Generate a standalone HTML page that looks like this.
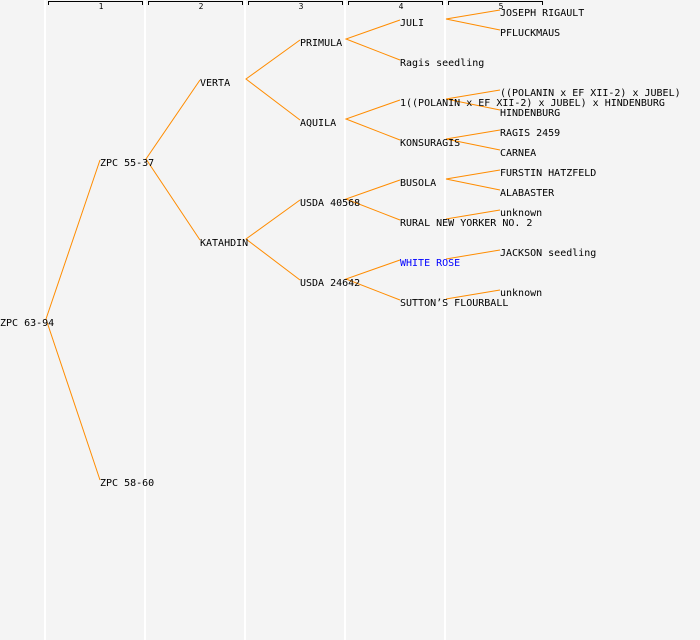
<!DOCTYPE html>
<html><head><meta charset="utf-8"><style>
html,body{margin:0;padding:0;background:#f4f4f4;}
svg{display:block;}
text{font-family:"DejaVu Sans Mono","Liberation Mono",monospace;font-size:10px;fill:#000;}
.n{font-size:8px;}
</style></head><body>
<svg width="700" height="640" viewBox="0 0 700 640" xmlns="http://www.w3.org/2000/svg">
<rect width="700" height="640" fill="#f4f4f4"/>
<g stroke="#ffffff" stroke-width="2">
<line x1="45" y1="0" x2="45" y2="640"/><line x1="145" y1="0" x2="145" y2="640"/>
<line x1="245" y1="0" x2="245" y2="640"/><line x1="345" y1="0" x2="345" y2="640"/>
<line x1="445" y1="0" x2="445" y2="640"/>
</g>
<g stroke="#000" stroke-width="1" fill="none">
<path d="M48.5 5V1.5H142.5V5"/><path d="M148.5 5V1.5H242.5V5"/><path d="M248.5 5V1.5H342.5V5"/>
<path d="M348.5 5V1.5H442.5V5"/><path d="M448.5 5V1.5H542.5V5"/>
</g>
<text class="n" x="101" y="9" text-anchor="middle">1</text>
<text class="n" x="201" y="9" text-anchor="middle">2</text>
<text class="n" x="301" y="9" text-anchor="middle">3</text>
<text class="n" x="401" y="9" text-anchor="middle">4</text>
<text class="n" x="501" y="9" text-anchor="middle">5</text>
<g stroke="#ff8c00" stroke-width="1" fill="none">
<polyline points="100,160 46,319 100,480"/>
<polyline points="200,80 146,159 200,240"/>
<polyline points="300,40 246,79 300,120"/>
<polyline points="300,200 246,239 300,280"/>
<polyline points="400,20 346,39 400,60"/>
<polyline points="400,100 346,119 400,140"/>
<polyline points="400,180 346,199 400,220"/>
<polyline points="400,260 346,279 400,300"/>
<polyline points="500,10 446,19 500,30"/>
<polyline points="500,90 446,99 500,110"/>
<polyline points="500,130 446,139 500,150"/>
<polyline points="500,170 446,179 500,190"/>
<line x1="446" y1="219" x2="500" y2="210"/>
<line x1="446" y1="259" x2="500" y2="250"/>
<line x1="446" y1="299" x2="500" y2="290"/>
</g>
<text x="0" y="326">ZPC 63-94</text>
<text x="100" y="166">ZPC 55-37</text>
<text x="100" y="486">ZPC 58-60</text>
<text x="200" y="86">VERTA</text>
<text x="200" y="246">KATAHDIN</text>
<text x="300" y="46">PRIMULA</text>
<text x="300" y="126">AQUILA</text>
<text x="300" y="206">USDA 40568</text>
<text x="300" y="286">USDA 24642</text>
<text x="400" y="26">JULI</text>
<text x="400" y="66">Ragis seedling</text>
<text x="400" y="106">1((POLANIN x EF XII-2) x JUBEL) x HINDENBURG</text>
<text x="400" y="146">KONSURAGIS</text>
<text x="400" y="186">BUSOLA</text>
<text x="400" y="226">RURAL NEW YORKER NO. 2</text>
<text x="400" y="266" style="fill:#0000ff">WHITE ROSE</text>
<text x="400" y="306">SUTTON’S FLOURBALL</text>
<text x="500" y="16">JOSEPH RIGAULT</text>
<text x="500" y="36">PFLUCKMAUS</text>
<text x="500" y="96">((POLANIN x EF XII-2) x JUBEL)</text>
<text x="500" y="116">HINDENBURG</text>
<text x="500" y="136">RAGIS 2459</text>
<text x="500" y="156">CARNEA</text>
<text x="500" y="176">FURSTIN HATZFELD</text>
<text x="500" y="196">ALABASTER</text>
<text x="500" y="216">unknown</text>
<text x="500" y="256">JACKSON seedling</text>
<text x="500" y="296">unknown</text>
</svg>
</body></html>
